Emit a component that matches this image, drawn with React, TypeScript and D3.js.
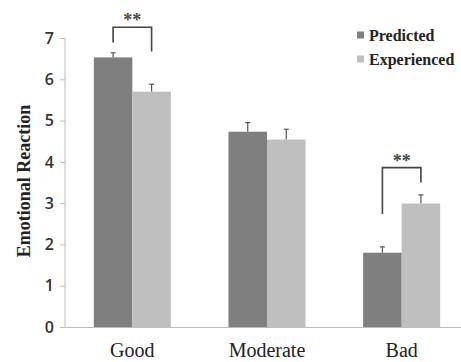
import {useEffect, useRef} from 'react';
import * as d3 from 'd3';

const categories = ['Good', 'Moderate', 'Bad'];
const series = ['Predicted', 'Experienced'];
const predicted = [6.53, 4.73, 1.8];
const predictedErr = [0.11, 0.22, 0.14];
const experienced = [5.7, 4.54, 2.99];
const experiencedErr = [0.18, 0.25, 0.21];
const yTicks = [0, 1, 2, 3, 4, 5, 6, 7];
// significance brackets: category, top of bracket, left leg end, right leg end
const brackets = [
    {cat: 'Good', top: 7.26, left: 6.89, right: 6.67, label: '**'},
    {cat: 'Bad', top: 3.86, left: 2.74, right: 3.5, label: '**'},
];

export default function App() {
    const ref = useRef<SVGSVGElement>(null);

    useEffect(() => {
        const width = 461;
        const height = 362;
        const svg = d3.select(ref.current);
        svg.selectAll('*').remove();

        const x0 = d3
            .scaleBand()
            .domain(categories)
            .range([65, 469])
            .paddingInner(0.428)
            .paddingOuter(0.214);
        const x1 = d3.scaleBand().domain(series).range([0, x0.bandwidth()]);
        const y = d3.scaleLinear().domain([0, 7]).range([327, 38]);

        const color = d3.scaleOrdinal<string>().domain(series).range(['#7f7f7f', '#bfbfbf']);
        const values: Record<string, number[]> = {Predicted: predicted, Experienced: experienced};
        const errs: Record<string, number[]> = {Predicted: predictedErr, Experienced: experiencedErr};

        // y axis
        const yAxis = svg.append('g');
        yAxis
            .append('line')
            .attr('x1', 65)
            .attr('x2', 65)
            .attr('y1', y(7))
            .attr('y2', y(0))
            .attr('stroke', '#bdbdbd');
        yAxis
            .selectAll('.tick')
            .data(yTicks)
            .enter()
            .append('line')
            .attr('x1', 60)
            .attr('x2', 65)
            .attr('y1', (d) => y(d) + 0.5)
            .attr('y2', (d) => y(d) + 0.5)
            .attr('stroke', '#bdbdbd');
        yAxis
            .selectAll('.lab')
            .data(yTicks)
            .enter()
            .append('text')
            .attr('x', 54)
            .attr('y', (d) => y(d))
            .attr('dy', '0.36em')
            .attr('text-anchor', 'end')
            .attr('font-family', 'Open Sans')
            .attr('font-weight', 600)
            .attr('font-size', 16)
            .attr('fill', '#333')
            .text((d) => d);

        // bars
        const groups = svg
            .selectAll('.grp')
            .data(categories)
            .enter()
            .append('g')
            .attr('transform', (d) => `translate(${x0(d)},0)`);

        series.forEach((s) => {
            groups
                .append('rect')
                .attr('x', x1(s)!)
                .attr('width', x1.bandwidth())
                .attr('y', (d, i) => y(values[s][i]))
                .attr('height', (d, i) => y(0) - y(values[s][i]))
                .attr('fill', color(s));
            groups
                .append('line')
                .attr('x1', x1(s)! + x1.bandwidth() / 2)
                .attr('x2', x1(s)! + x1.bandwidth() / 2)
                .attr('y1', (d, i) => y(values[s][i]))
                .attr('y2', (d, i) => y(values[s][i] + errs[s][i]))
                .attr('stroke', '#555')
                .attr('stroke-width', 1.2);
            groups
                .append('line')
                .attr('x1', x1(s)! + x1.bandwidth() / 2 - 2.5)
                .attr('x2', x1(s)! + x1.bandwidth() / 2 + 2.5)
                .attr('y1', (d, i) => y(values[s][i] + errs[s][i]))
                .attr('y2', (d, i) => y(values[s][i] + errs[s][i]))
                .attr('stroke', '#555')
                .attr('stroke-width', 1.2);
        });

        // x baseline
        svg
            .append('line')
            .attr('x1', 60)
            .attr('x2', width)
            .attr('y1', y(0) + 0.5)
            .attr('y2', y(0) + 0.5)
            .attr('stroke', '#bdbdbd');

        svg
            .selectAll('.xlab')
            .data(categories)
            .enter()
            .append('text')
            .attr('x', (d) => x0(d)! + x0.bandwidth() / 2)
            .attr('y', 357)
            .attr('text-anchor', 'middle')
            .attr('font-family', 'Liberation Serif')
            .attr('font-size', 20)
            .attr('fill', '#222')
            .text((d) => d);

        // y title
        svg
            .append('text')
            .attr('transform', `translate(30, 181) rotate(-90)`)
            .attr('text-anchor', 'middle')
            .attr('font-family', 'Liberation Serif')
            .attr('font-weight', 'bold')
            .attr('font-size', 18)
            .attr('fill', '#222')
            .text('Emotional Reaction');

        // significance brackets
        brackets.forEach((b) => {
            const xl = x0(b.cat)! + x1('Predicted')! + x1.bandwidth() / 2;
            const xr = x0(b.cat)! + x1('Experienced')! + x1.bandwidth() / 2;
            svg
                .append('path')
                .attr('d', `M${xl},${y(b.left)}V${y(b.top)}H${xr}V${y(b.right)}`)
                .attr('fill', 'none')
                .attr('stroke', '#444')
                .attr('stroke-width', 1.6);
            svg
                .append('text')
                .attr('x', (xl + xr) / 2)
                .attr('y', y(b.top) - 1)
                .attr('text-anchor', 'middle')
                .attr('font-family', 'Liberation Serif')
                .attr('font-weight', 'bold')
                .attr('font-size', 18)
                .attr('fill', '#444')
                .text(b.label);
        });

        // legend
        const legend = svg
            .selectAll('.leg')
            .data(series)
            .enter()
            .append('g')
            .attr('transform', (d, i) => `translate(357, ${35 + i * 24})`);
        legend
            .append('rect')
            .attr('x', 0)
            .attr('y', -3.5)
            .attr('width', 7)
            .attr('height', 7)
            .attr('fill', (d) => color(d));
        legend
            .append('text')
            .attr('x', 12)
            .attr('y', 6)
            .attr('font-family', 'Liberation Serif')
            .attr('font-weight', 'bold')
            .attr('font-size', 16)
            .attr('fill', '#222')
            .text((d) => d);

        svg.attr('width', width).attr('height', height);
    }, []);

    return (
        <svg
            ref={ref}
            style={{position: 'absolute', left: 0, top: 0, background: '#fff'}}
        ></svg>
    );
}
